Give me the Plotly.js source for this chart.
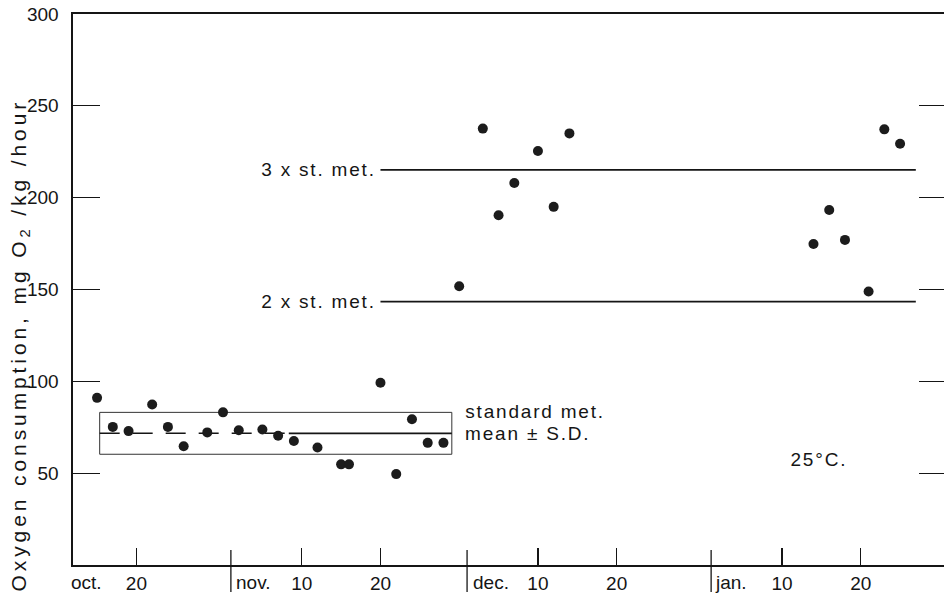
<!DOCTYPE html>
<html>
<head>
<meta charset="utf-8">
<script src="https://cdn.plot.ly/plotly-3.0.1.min.js"></script>
<style>
  html, body { margin: 0; padding: 0; overflow: hidden; background: #ffffff; }
  #chart { width: 946px; height: 600px; }
  g.annotation[data-index="0"] text { letter-spacing: 3.9px; }
  g.annotation[data-index="5"] text,
  g.annotation[data-index="6"] text,
  g.annotation[data-index="7"] text,
  g.annotation[data-index="8"] text,
  g.annotation[data-index="9"] text { letter-spacing: 1.8px; }
</style>
</head>
<body>
<div id="chart"></div>
<script>
// ---- data ----
const measDates = ['1980-10-15','1980-10-17','1980-10-19','1980-10-22','1980-10-24','1980-10-26',
  '1980-10-29','1980-10-31','1980-11-02','1980-11-05','1980-11-07','1980-11-09','1980-11-12',
  '1980-11-15','1980-11-16','1980-11-20','1980-11-22','1980-11-24','1980-11-26','1980-11-28',
  '1980-11-30','1980-12-03','1980-12-05','1980-12-07','1980-12-10','1980-12-12','1980-12-14',
  '1981-01-14','1981-01-16','1981-01-18','1981-01-21','1981-01-23','1981-01-25'];
const o2Values = [91, 75.2, 72.9, 87.4, 75.2, 64.7, 72.2, 83.1, 73.4, 73.8, 70.4, 67.5, 64.0,
  54.8, 54.8, 99.2, 49.5, 79.4, 66.5, 66.5,
  151.8, 237.6, 190.4, 208, 225.4, 195, 235,
  174.8, 193.3, 177, 148.9, 237.2, 229.4];

const stdMetMean = 71.7;
const stdMetSD = 11.4;
const stdPeriod = ['1980-10-15 08:00', '1980-11-29 01:30'];
const stdSolidFrom = '1980-11-08 08:30';
const multPeriod = ['1980-11-20 00:00', '1981-01-27 00:00'];
const multiples = [2, 3];

const xTickVals = ['1980-10-20','1980-11-10','1980-11-20','1980-12-10','1980-12-20','1981-01-10','1981-01-20'];
const xTickText = ['20','10','20','10','20','10','20'];
const monthStarts = ['1980-11-01','1980-12-01','1981-01-01'];
const monthNames = ['oct.','nov.','dec.','jan.'];
const yTickVals = [50, 100, 150, 200, 250, 300];
const xRange = ['1980-10-11 22:40', '1981-01-30 20:00'];
const yRange = [0, 300];

// ---- styling ----
const INK = '#151515';
const FONT = 'Liberation Sans, Arial, Helvetica, sans-serif';

const sdTop = stdMetMean + stdMetSD;
const sdBot = stdMetMean - stdMetSD;

const traces = [
  { // SD box
    type: 'scatter', mode: 'lines', hoverinfo: 'skip', showlegend: false,
    x: [stdPeriod[0], stdPeriod[1], stdPeriod[1], stdPeriod[0], stdPeriod[0]],
    y: [sdTop, sdTop, sdBot, sdBot, sdTop],
    line: { color: '#333', width: 1 }
  },
  { // mean dashed part
    type: 'scatter', mode: 'lines', hoverinfo: 'skip', showlegend: false,
    x: [stdPeriod[0], stdSolidFrom], y: [stdMetMean, stdMetMean],
    line: { color: INK, width: 1.6, dash: '20px,13px' }
  },
  { // mean solid part
    type: 'scatter', mode: 'lines', hoverinfo: 'skip', showlegend: false,
    x: [stdSolidFrom, stdPeriod[1]], y: [stdMetMean, stdMetMean],
    line: { color: INK, width: 1.8 }
  }
];
multiples.forEach(m => traces.push({
  type: 'scatter', mode: 'lines', hoverinfo: 'skip', showlegend: false,
  x: multPeriod, y: [m * stdMetMean, m * stdMetMean],
  line: { color: INK, width: 1.8 }
}));
traces.push({
  type: 'scatter', mode: 'markers', showlegend: false,
  x: measDates, y: o2Values,
  marker: { size: 10, color: '#1c1c1c', line: { width: 0 } }
});

function ann(o) {
  return Object.assign({ showarrow: false, borderpad: 0, borderwidth: 0,
    font: { family: FONT, size: 19, color: INK } }, o);
}

const annotations = [
  ann({ text: 'Oxygen consumption, mg O<sub>2</sub> /kg /hour', textangle: -90,
        xref: 'paper', yref: 'paper', x: -0.0607, y: 0.399, xanchor: 'center', yanchor: 'middle',
        font: { family: FONT, size: 21, color: INK } }),
  ann({ text: monthNames[0], xref: 'x', yref: 'paper', x: '1980-10-12', y: -0.031,
        xanchor: 'left', yanchor: 'middle', xshift: -2 }),
  ann({ text: monthNames[1], xref: 'x', yref: 'paper', x: monthStarts[0], y: -0.031,
        xanchor: 'left', yanchor: 'middle', xshift: 5 }),
  ann({ text: monthNames[2], xref: 'x', yref: 'paper', x: monthStarts[1], y: -0.031,
        xanchor: 'left', yanchor: 'middle', xshift: 6 }),
  ann({ text: monthNames[3], xref: 'x', yref: 'paper', x: monthStarts[2], y: -0.031,
        xanchor: 'left', yanchor: 'middle', xshift: 3.5 }),
  ann({ text: '3 x st. met.', xref: 'x', yref: 'y', x: multPeriod[0], y: 3 * stdMetMean,
        xanchor: 'right', yanchor: 'middle', xshift: -15 }),
  ann({ text: '2 x st. met.', xref: 'x', yref: 'y', x: multPeriod[0], y: 2 * stdMetMean,
        xanchor: 'right', yanchor: 'middle', xshift: -15 }),
  ann({ text: 'standard met.', xref: 'x', yref: 'y', x: stdPeriod[1], y: sdTop,
        xanchor: 'left', yanchor: 'middle', xshift: 25, yshift: 1 }),
  ann({ text: 'mean ± S.D.', xref: 'x', yref: 'y', x: stdPeriod[1], y: stdMetMean,
        xanchor: 'left', yanchor: 'middle', xshift: 23 }),
  ann({ text: '25°C.', xref: 'paper', yref: 'paper', x: 0.827, y: 0.1906,
        xanchor: 'left', yanchor: 'middle' })
];

const shapes = monthStarts.map(d => ({
  type: 'line', xref: 'x', yref: 'paper', x0: d, x1: d, y0: 15 / 551, y1: -27 / 551,
  line: { color: INK, width: 1.3 }
}));

const layout = {
  width: 946, height: 600,
  margin: { l: 73, r: 0, t: 14, b: 35, pad: 0 },
  paper_bgcolor: '#ffffff', plot_bgcolor: '#ffffff',
  showlegend: false,
  font: { family: FONT, size: 19, color: INK },
  xaxis: {
    type: 'date', range: xRange,
    tickmode: 'array', tickvals: xTickVals, ticktext: xTickText,
    ticks: 'inside', ticklen: 17, tickwidth: 1.3, tickcolor: INK,
    ticklabelstandoff: 1,
    tickfont: { family: FONT, size: 19, color: INK },
    showline: true, linecolor: INK, linewidth: 1.6, mirror: true,
    showgrid: false, zeroline: false
  },
  yaxis: {
    range: yRange,
    tickmode: 'array', tickvals: yTickVals,
    ticks: 'inside', ticklen: 27, tickwidth: 1.2, tickcolor: INK,
    ticklabelstandoff: 9,
    tickfont: { family: FONT, size: 19, color: INK },
    showline: true, linecolor: INK, linewidth: 1.6, mirror: 'ticks',
    showgrid: false, zeroline: false
  },
  annotations: annotations,
  shapes: shapes
};

Plotly.newPlot('chart', traces, layout, { staticPlot: true, displayModeBar: false });
</script>
</body>
</html>
